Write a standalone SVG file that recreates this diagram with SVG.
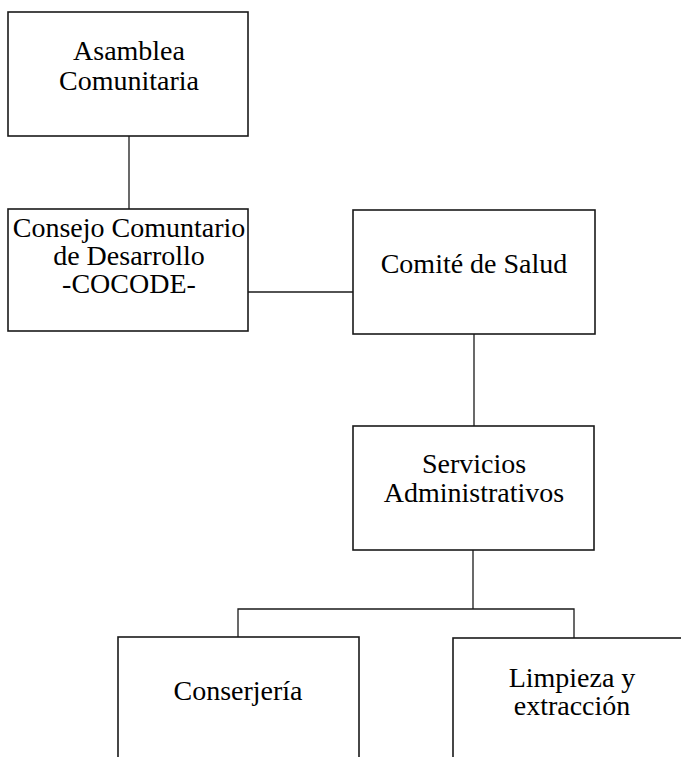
<svg xmlns="http://www.w3.org/2000/svg" width="681" height="757" viewBox="0 0 681 757">
<style>
.box{fill:#fff;stroke:#1a1a1a;stroke-width:1.6}
.ln{fill:none;stroke:#1a1a1a;stroke-width:1.3}
text{font-family:"Liberation Serif","Times New Roman",serif;font-size:28px;fill:#000;text-anchor:middle}
</style>
<rect width="681" height="757" fill="#fff"/>
<g id="connectors">
<line class="ln" x1="129" y1="136" x2="129" y2="209"/>
<line class="ln" x1="248" y1="292" x2="353" y2="292"/>
<line class="ln" x1="474" y1="334" x2="474" y2="426"/>
<line class="ln" x1="473" y1="550" x2="473" y2="609"/>
<polyline class="ln" points="238,637 238,609 574,609 574,638"/>
</g>
<g id="asamblea">
<rect class="box" x="8" y="12" width="240" height="124"/>
<text x="129" y="60">Asamblea</text>
<text x="129" y="90">Comunitaria</text>
</g>
<g id="cocode">
<rect class="box" x="8" y="209" width="240" height="122"/>
<text x="129" y="237">Consejo Comuntario</text>
<text x="129" y="265">de Desarrollo</text>
<text x="129" y="293">-COCODE-</text>
</g>
<g id="comite">
<rect class="box" x="353" y="210" width="242" height="124"/>
<text x="474" y="273">Comité de Salud</text>
</g>
<g id="servicios">
<rect class="box" x="353" y="426" width="241" height="124"/>
<text x="474" y="473">Servicios</text>
<text x="474" y="502">Administrativos</text>
</g>
<g id="conserjeria">
<rect class="box" x="118" y="637" width="241" height="140"/>
<text x="238" y="700">Conserjería</text>
</g>
<g id="limpieza">
<rect class="box" x="453" y="638" width="250" height="140"/>
<text x="572" y="687">Limpieza y</text>
<text x="572" y="715">extracción</text>
</g>
</svg>
